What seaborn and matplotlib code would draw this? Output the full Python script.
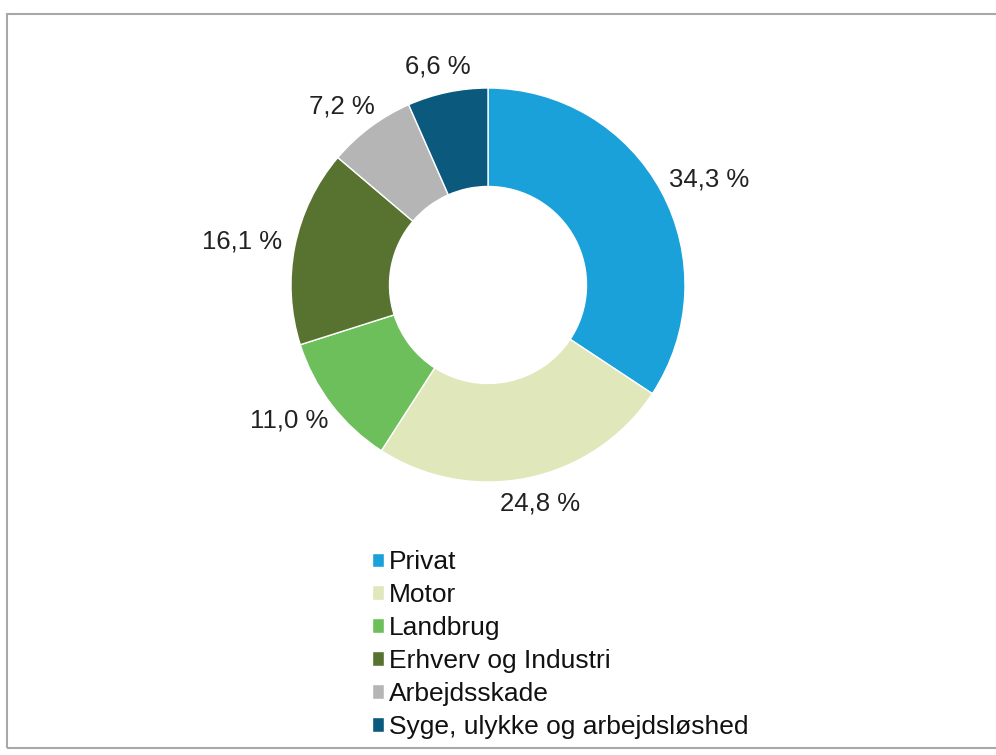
import numpy as np
import matplotlib
matplotlib.use("Agg")
import matplotlib.pyplot as plt
import seaborn as sns
from matplotlib.patches import Rectangle

categories = ["Privat", "Motor", "Landbrug", "Erhverv og Industri",
              "Arbejdsskade", "Syge, ulykke og arbejdsløshed"]
values = [34.3, 24.8, 11.0, 16.1, 7.2, 6.6]
value_labels = ["34,3 %", "24,8 %", "11,0 %", "16,1 %", "7,2 %", "6,6 %"]
colors = ["#1ba1d9", "#dfe7bb", "#6cbf5a", "#58732f", "#b5b5b5", "#0b5a7d"]

sns.set_theme(style="white")
plt.rcParams['font.family'] = ['Liberation Sans', 'DejaVu Sans']

fig = plt.figure(figsize=(9.96, 7.55), dpi=100)
fig.patch.set_facecolor("white")

R_PX = 197.0
cx, cy = 488.0, 755.0 - 285.0
xl, yl = 1.6, 1.4
ax = fig.add_axes([(cx - xl * R_PX) / 996, (cy - yl * R_PX) / 755,
                   2 * xl * R_PX / 996, 2 * yl * R_PX / 755])
ax.axis("off")

wedges, _ = ax.pie(values, colors=colors, startangle=90, counterclock=False,
                   radius=1.0, wedgeprops=dict(width=0.5, edgecolor="white", linewidth=1.0),
                   frame=False)
ax.set_aspect("auto")
ax.set_xlim(-xl, xl)
ax.set_ylim(-yl, yl)

# value labels placed just outside the ring, box adjacent to the ring
fig.canvas.draw()
renderer = fig.canvas.get_renderer()
total = sum(values)
cum = 0.0
for v, lab in zip(values, value_labels):
    mid = 90 - (cum + v / 2) / total * 360
    cum += v
    a = np.deg2rad(mid)
    t = ax.text(0, 0, lab, fontsize=18.5, color="#222222", ha="center", va="center")
    bb = t.get_window_extent(renderer)
    w = bb.width / R_PX
    h = bb.height / R_PX
    gap = 1.07
    x = gap * np.cos(a) + w / 2 * np.cos(a)
    y = gap * np.sin(a) + h / 2 * np.sin(a)
    t.set_position((x, y))

leg = fig.legend(wedges, categories, loc="upper left",
                 bbox_to_anchor=(372 / 996, (755 - 550) / 755),
                 frameon=False, fontsize=19, handlelength=0.45, handleheight=0.45,
                 handletextpad=0.2, labelspacing=0.34, borderaxespad=0, borderpad=0)
for txt in leg.get_texts():
    txt.set_color("#111111")

fig.add_artist(Rectangle((7 / 996, 7 / 755), 1.2, (748 - 14) / 755,
                         transform=fig.transFigure, fill=False,
                         edgecolor="#a8a8a8", linewidth=1.5))

fig.savefig("out.png", dpi=100)
